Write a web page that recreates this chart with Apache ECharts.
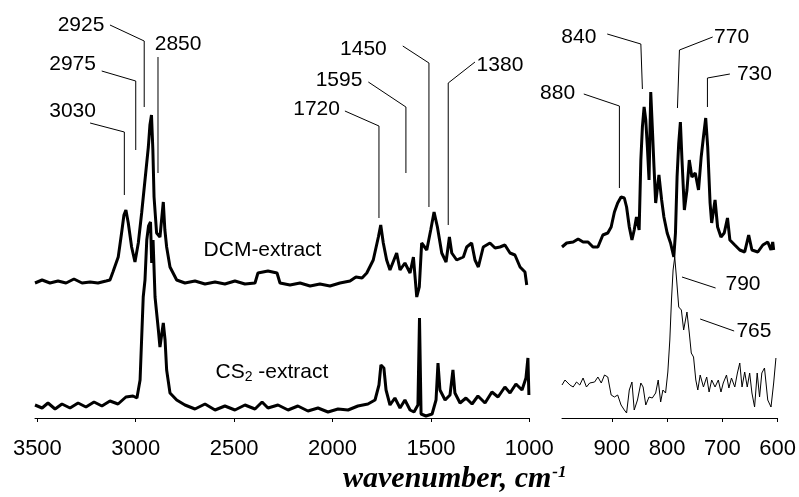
<!DOCTYPE html>
<html>
<head>
<meta charset="utf-8">
<script src="https://cdn.jsdelivr.net/npm/echarts@6/dist/echarts.min.js"></script>
<style>html,body{margin:0;padding:0;background:#fff}#c{width:799px;height:497px}</style>
</head>
<body>
<div id="c"></div>
<script>
// ---------- DATA (wavenumber cm-1, absorbance in arbitrary units, offset spectra) ----------
const leftTicks = [1000, 1500, 2000, 2500, 3000, 3500];
const rightTicks = [600, 700, 800, 900];

const dcmLeft = [
 [3512,135],[3476,138],[3436,135],[3395,137],[3354,135],[3314,139],[3273,135],[3232,136],[3192,135],[3151,137],
 [3131,138],[3116,146],[3089,161],[3072,185],[3060,203],[3050,208],[3038,195],[3021,171],[3004,156],[2987,175],
 [2970,205],[2953,238],[2936,271],[2928,293],[2920,303],[2913,268],[2907,221],[2894,185],[2877,181],[2860,216],
 [2852,188],[2843,171],[2826,151],[2792,138],[2750,135],[2699,137],[2648,134],[2597,136],[2547,134],[2496,137],
 [2445,134],[2394,135],[2379,145],[2328,147],[2282,145],[2267,135],[2216,133],[2165,135],[2114,132],[2064,134],
 [2013,132],[1962,135],[1911,137],[1881,141],[1850,140],[1826,145],[1793,158],[1767,181],[1755,193],[1742,175],
 [1725,158],[1708,148],[1674,165],[1657,148],[1632,155],[1606,145],[1589,161],[1572,121],[1559,131],[1547,175],
 [1521,168],[1501,188],[1484,206],[1467,191],[1445,165],[1423,156],[1406,181],[1394,165],[1369,158],[1335,161],
 [1318,171],[1293,175],[1276,158],[1259,151],[1234,171],[1200,175],[1174,170],[1149,171],[1124,173],[1098,165],
 [1073,163],[1047,151],[1022,146],[1013,133]
];

const cs2Left = [
 [3512,13],[3476,10],[3446,15],[3410,9],[3375,14],[3334,10],[3293,15],[3253,11],[3212,16],[3172,12],
 [3131,17],[3090,14],[3050,21],[3014,22],[2994,20],[2978,38],[2962,121],[2953,138],[2944,178],[2935,192],
 [2925,196],[2919,155],[2912,178],[2902,121],[2885,88],[2877,71],[2860,95],[2851,78],[2843,48],[2826,25],
 [2792,18],[2750,13],[2699,9],[2648,14],[2597,8],[2547,12],[2496,8],[2445,13],[2394,9],[2358,16],
 [2328,10],[2277,13],[2226,8],[2176,12],[2125,7],[2074,10],[2023,6],[1972,9],[1921,8],[1871,12],
 [1820,14],[1784,18],[1764,33],[1754,53],[1739,50],[1728,28],[1708,13],[1683,20],[1657,10],[1632,18],
 [1606,8],[1586,6],[1566,13],[1558,100],[1550,4],[1525,2],[1494,4],[1474,18],[1464,55],[1454,28],
 [1428,18],[1403,23],[1388,48],[1378,25],[1352,15],[1322,20],[1291,14],[1261,22],[1225,15],[1190,26],
 [1159,21],[1124,31],[1098,25],[1068,34],[1037,28],[1017,40],[1007,60],[1002,23]
];

const dcmRight = [
 [990,171],[981.6,175],[969.8,176],[960.8,179],[951.9,176],[942.9,176],[934.0,171],[925.1,171],[916.1,183],[907.2,185],
 [901.1,191],[895.2,206],[889.3,215],[883.2,221],[877.3,220],[873.2,211],[868.3,191],[863.5,178],[859.4,188],[855.3,201],
 [850.5,188],[847.4,258],[844.6,291],[841.5,311],[838.5,298],[835.6,271],[832.6,238],[829.5,326],[826.7,291],[823.6,251],
 [820.6,215],[814.7,243],[809.8,218],[805.7,201],[799.8,185],[793.7,175],[787.8,161],[784.8,185],[781.9,241],[778.9,275],
 [775.9,296],[773.0,258],[768.7,208],[764.0,228],[759.8,258],[755.1,241],[749.0,245],[743.1,228],[738.3,261],[734.2,281],
 [730.1,300],[726.5,271],[722.2,215],[719.3,195],[713.2,218],[708.6,191],[702.5,181],[696.6,185],[690.7,200],[686.4,178],
 [677.5,173],[668.5,168],[659.6,166],[652.4,183],[646.5,168],[635.8,166],[626.8,173],[617.9,176],[612.0,168],[608.9,176],
 [607.2,168]
];

const cs2Right = [
 [990,33],[984.6,38],[975.7,33],[969.8,31],[963.7,36],[957.8,33],[951.9,40],[945.8,31],[939.9,35],[931.0,36],
 [925.1,41],[919.0,35],[913.1,43],[907.2,41],[901.1,23],[895.2,21],[889.3,23],[883.2,13],[877.3,8],[873.2,5],
 [868.3,28],[863.5,36],[859.4,8],[853.5,18],[847.4,35],[843.3,31],[838.5,13],[832.6,21],[826.7,20],[820.6,25],
 [816.0,38],[811.6,16],[807.5,28],[802.7,25],[798.6,46],[795.0,78],[792.0,118],[789.1,148],[786.1,161],[783.1,141],
 [778.9,111],[774.1,108],[770.0,88],[764.0,106],[759.8,85],[756.2,65],[752.1,61],[748.0,38],[744.4,28],[740.1,43],
 [734.2,31],[728.3,41],[724.0,26],[719.3,38],[713.2,31],[707.3,38],[702.5,26],[698.4,35],[692.5,43],[688.2,30],
 [683.5,40],[677.5,31],[672.8,45],[668.5,55],[664.4,31],[659.6,46],[655.0,31],[650.6,45],[646.5,25],[641.7,11],
 [637.0,45],[632.7,21],[628.6,45],[623.8,50],[617.9,18],[612.0,11],[607.2,35],[603.1,60]
];

// ---------- ANNOTATIONS (label text, label anchor and leader path in data space) ----------
const leftPeakNames = ['3030','2975','2925','2850','1720','1595','1450','1380'];
const leftPeakTextAt = [[3321,307],[3321,354],[3278,393],[2785,374],[2081,309],[1967,338],[1843,369],[1149,353]];
const leftPeakLeaders = [
 [[3232,295],[3058,286],[3058,223]],
 [[3173,347],[3000,337],[3000,268]],
 [[3131,393],[2957,377],[2957,311]],
 [[2887,361],[2887,245]],
 [[1937,307],[1764,292],[1764,200]],
 [[1818,336],[1627,311],[1627,245]],
 [[1643,372],[1510,355],[1510,211]],
 [[1276,356],[1412,335],[1412,193]]
];
const rightPeakNames = ['880','840','770','730','790','765'];
const rightPeakTextAt = [[998,325],[959.6,381],[683.2,381],[642,344],[662.6,134],[642.9,87]];
const rightPeakLeaders = [
 [[950.6,324],[886.2,312],[886.2,230]],
 [[908.2,384],[847.4,374],[844.6,329]],
 [[717.5,381],[777.6,368],[781.2,310]],
 [[686.4,344],[727,340],[727,311]],
 [[773,141],[712.2,130]],
 [[740.1,99],[678.7,87]]
];
const seriesNames = ['DCM-extract', 'CS{s|2} -extract'];
const seriesNameAt = [[2356,168],[2308,46]];

// ---------- CHART ----------
const chart = echarts.init(document.getElementById('c'), null, {renderer:'canvas'});
const SANS = 'Liberation Sans, Arial, sans-serif';

function leaderSeries(paths, axisIdx) {
  return paths.map(p => ({
    type:'line', xAxisIndex:axisIdx, yAxisIndex:axisIdx, data:p, showSymbol:false, silent:true,
    clip:false, z:1, lineStyle:{color:'#000', width:1}, animation:false
  }));
}
function textSeries(names, pos, axisIdx) {
  return {
    type:'scatter', xAxisIndex:axisIdx, yAxisIndex:axisIdx, symbolSize:0, clip:false, silent:true, z:5,
    itemStyle:{opacity:1, color:'#000'},
    data: names.map((n,i)=>({name:n, value:pos[i]})),
    label:{show:true, position:'inside', formatter:p=>p.name, color:'#000', opacity:1, fontFamily:SANS, fontSize:21,
      rich:{s:{fontSize:14, verticalAlign:'bottom', padding:[10,0,0,0], fontFamily:SANS, color:'#000'}}}
  };
}
function axisX(grid, min, max, ticks) {
  return {
    gridIndex:grid, type:'value', inverse:true, min:min, max:max,
    axisLine:{show:true, onZero:false, lineStyle:{color:'#000', width:1}},
    axisTick:{show:true, inside:false, length:4, customValues:ticks, lineStyle:{color:'#000'}},
    axisLabel:{show:true, customValues:ticks, margin:20, color:'#000', fontFamily:SANS, fontSize:22,
      formatter:v=>String(v)},
    splitLine:{show:false}
  };
}

const option = {
  animation:false,
  backgroundColor:'#fff',
  title:{
    text:'wavenumber, cm{sup|-1}', left:338, top:459,
    textStyle:{fontFamily:'Liberation Serif, Times New Roman, serif', fontStyle:'italic', fontWeight:'bold', fontSize:30, color:'#000',
      rich:{sup:{fontFamily:'Liberation Serif, serif', fontStyle:'italic', fontWeight:'bold', fontSize:17, verticalAlign:'top', padding:[0,0,13,1], color:'#000'}}}
  },
  grid:[
    {left:35, width:494.3, top:18, height:400},
    {left:562, width:218, top:18, height:400}
  ],
  xAxis:[ axisX(0, 1000, 3512, leftTicks), axisX(1, 600, 990, rightTicks) ],
  yAxis:[
    {gridIndex:0, type:'value', min:0, max:400, show:false},
    {gridIndex:1, type:'value', min:0, max:400, show:false}
  ],
  series:[
    {type:'line', xAxisIndex:0, yAxisIndex:0, data:dcmLeft, showSymbol:false, lineStyle:{color:'#000', width:3}, z:3},
    {type:'line', xAxisIndex:0, yAxisIndex:0, data:cs2Left, showSymbol:false, lineStyle:{color:'#000', width:3}, z:3},
    {type:'line', xAxisIndex:1, yAxisIndex:1, data:dcmRight, showSymbol:false, lineStyle:{color:'#000', width:3}, z:3},
    {type:'line', xAxisIndex:1, yAxisIndex:1, data:cs2Right, showSymbol:false, lineStyle:{color:'#000', width:1}, z:3},
    ...leaderSeries(leftPeakLeaders, 0),
    ...leaderSeries(rightPeakLeaders, 1),
    textSeries(leftPeakNames, leftPeakTextAt, 0),
    textSeries(rightPeakNames, rightPeakTextAt, 1),
    textSeries(seriesNames, seriesNameAt, 0)
  ]
};
chart.setOption(option);
</script>
</body>
</html>
